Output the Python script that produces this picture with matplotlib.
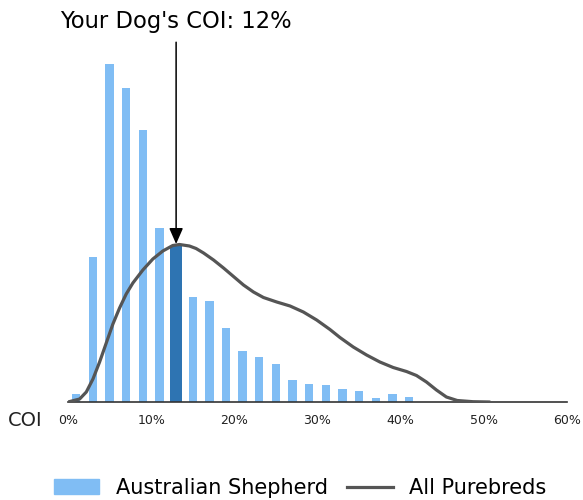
import numpy as np
import matplotlib.pyplot as plt
from matplotlib.patches import Patch
from matplotlib.lines import Line2D

# Australian Shepherd COI histogram (bin centres in %, bar heights)
bin_centers = [1, 3, 5, 7, 9, 11, 13, 15, 17, 19, 21, 23, 25, 27, 29, 31, 33, 35, 37, 39, 41]
bin_heights = [8, 145, 338, 314, 272, 174, 156, 105, 101, 74, 51, 45, 38, 22, 18, 17, 13, 11, 4, 8, 5]
dog_bin = 13
dog_coi = 12

# All purebreds density curve
curve_x = [0, 1.4, 2.2, 3.0, 3.8, 4.6, 5.4, 6.2, 7.0, 7.8, 9.0, 10.2, 11.4, 12.6, 13.4,
           14.6, 15.4, 16.3, 17.5, 18.7, 19.9, 21.1, 22.3, 23.5, 25.1, 26.7, 28.3, 29.9,
           31.5, 32.7, 34.3, 35.9, 37.5, 39.1, 40.7, 41.9, 43.1, 44.3, 45.5, 46.8, 48.7, 50.7]
curve_y = [0, 3, 10, 23, 40, 59, 78, 94, 108, 119, 132, 143, 151, 156.5, 157.5,
           156, 153.5, 149, 142, 134, 125.5, 117, 110, 104.5, 100, 96, 90, 82,
           72.5, 64.5, 55, 47, 40, 34.5, 30.5, 26.5, 20, 12, 5, 1.5, 0.3, 0]

xticks = [0, 10, 20, 30, 40, 50, 60]

light = '#80bdf4'
dark = '#2e74b2'
grey = '#555555'

fig = plt.figure(figsize=(5.83, 5.0), dpi=100)
ax = fig.add_axes([68/583, 98/500, 499/583, 362/500])

colors = [dark if c == dog_bin else light for c in bin_centers]
widths = [1.4 if c == dog_bin else 1.0 for c in bin_centers]
ax.bar(bin_centers, bin_heights, width=widths, color=colors, zorder=2)
ax.plot(curve_x, curve_y, color=grey, lw=2.3, zorder=3,
        solid_capstyle='round', solid_joinstyle='round')

ax.set_xlim(0, 60)
ax.set_ylim(0, 362)
ax.set_xticks(xticks)
ax.set_xticklabels([f'{t}%' for t in xticks], fontsize=9, color='#222222')
ax.tick_params(axis='x', length=0, pad=9)
ax.set_yticks([])
for s in ['top', 'right', 'left']:
    ax.spines[s].set_visible(False)
ax.spines['bottom'].set_color('#333333')
ax.spines['bottom'].set_linewidth(1.2)

ax.annotate(f"Your Dog's COI: {dog_coi}%", xy=(dog_bin, 158), xytext=(dog_bin, 381),
            ha='center', va='center', fontsize=16.3, annotation_clip=False,
            arrowprops=dict(arrowstyle='-|>,head_length=0.8,head_width=0.35',
                            mutation_scale=12, color='black', lw=1.1,
                            shrinkA=5, shrinkB=0))

fig.text(8/583, 1 - 421/500, 'COI', fontsize=14, ha='left', va='center', color='#222222')

handles = [Patch(color=light), Line2D([], [], color=grey, lw=2.3)]
fig.legend(handles, ['Australian Shepherd', 'All Purebreds'], loc='center',
           bbox_to_anchor=(300/583, 12/500), ncol=2, frameon=False, fontsize=15,
           handlelength=2.2, columnspacing=0.9, handletextpad=0.8)

fig.savefig('out.png', dpi=100)
